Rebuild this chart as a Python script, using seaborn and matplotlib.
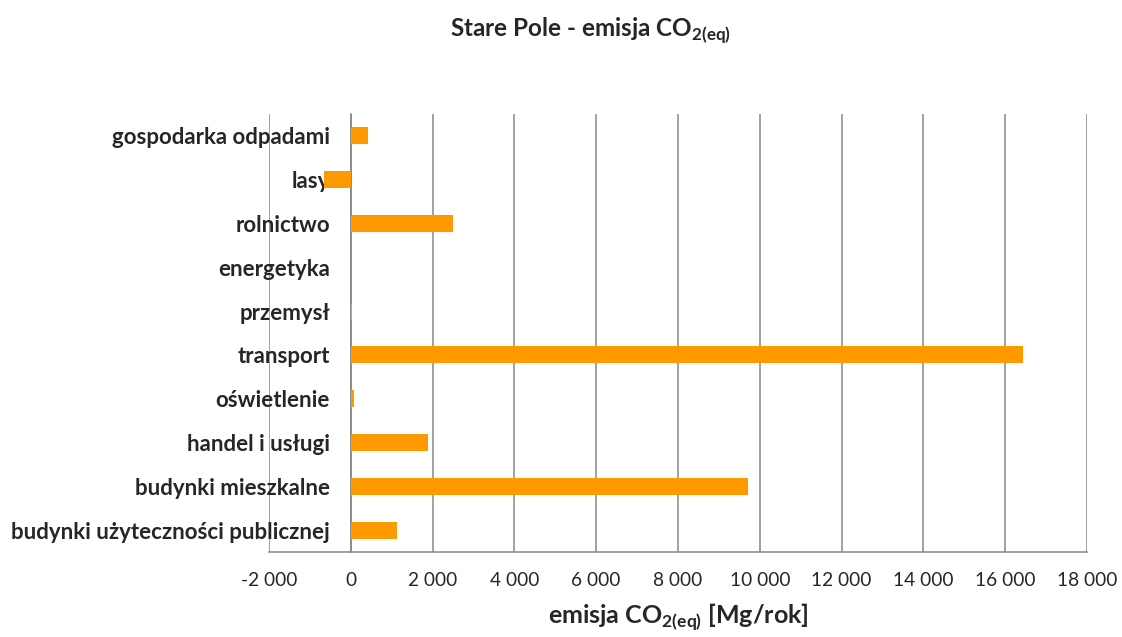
import matplotlib
matplotlib.use("Agg")
import matplotlib.pyplot as plt
import seaborn as sns
import pandas as pd
from matplotlib.ticker import FuncFormatter, FixedLocator

categories = [
    "gospodarka odpadami",
    "lasy",
    "rolnictwo",
    "energetyka",
    "przemysł",
    "transport",
    "oświetlenie",
    "handel i usługi",
    "budynki mieszkalne",
    "budynki użyteczności publicznej",
]
values = [420, -660, 2490, 0, 40, 16430, 90, 1900, 9720, 1125]
x_ticks = [-2000, 0, 2000, 4000, 6000, 8000, 10000, 12000, 14000, 16000, 18000]

df = pd.DataFrame({"kategoria": categories, "emisja": values})

sns.set_style("white")
plt.rcParams["font.family"] = ["Lato", "DejaVu Sans"]
plt.rcParams["mathtext.fontset"] = "custom"
plt.rcParams["mathtext.rm"] = "Lato"
plt.rcParams["mathtext.bf"] = "Lato:bold"

fig = plt.figure(figsize=(11.22, 6.37), dpi=100)
ax = fig.add_axes([0.2397, 0.1334, 0.9688 - 0.2397, 0.821 - 0.1334])

sns.barplot(data=df, y="kategoria", x="emisja", order=categories, orient="h",
            color="#FF9900", saturation=1, width=0.39, linewidth=0, ax=ax, zorder=3)

ax.set_xlim(x_ticks[0], x_ticks[-1])
ax.set_ylim(len(categories) - 0.5, -0.5)
ax.xaxis.set_major_locator(FixedLocator(x_ticks))
ax.xaxis.set_major_formatter(FuncFormatter(lambda v, p: f"{int(v):,}".replace(",", " ")))
ax.grid(axis="x", color="#878787", linewidth=1.1, zorder=0)
ax.set_axisbelow(True)

for s in ["top", "right"]:
    ax.spines[s].set_visible(False)
ax.spines["left"].set_position(("data", 0))
ax.spines["left"].set_color("#878787")
ax.spines["left"].set_linewidth(1.1)
ax.spines["bottom"].set_color("#878787")
ax.spines["bottom"].set_linewidth(1.1)

ax.set_yticks([i - 0.5 for i in range(len(categories) + 1)], minor=True)
ax.tick_params(axis="y", which="major", length=0, pad=15, labelsize=16)
ax.tick_params(axis="y", which="minor", length=5.5, width=1.1, color="#878787", direction="out")
ax.tick_params(axis="x", which="major", length=4.5, width=1.1, color="#878787",
               direction="out", labelsize=13.8, pad=10)
for lab in ax.get_yticklabels():
    lab.set_fontweight("bold")

ax.set_ylabel("")
ax.set_xlabel(r"emisja CO$_{\mathbf{2(eq)}}$ [Mg/rok]", fontsize=18, fontweight="bold", labelpad=9)
fig.text(0.526, 0.952, r"Stare Pole - emisja CO$_{\mathbf{2(eq)}}$", ha="center", va="center",
         fontsize=17.5, fontweight="bold")

fig.savefig("out.png", dpi=100)
